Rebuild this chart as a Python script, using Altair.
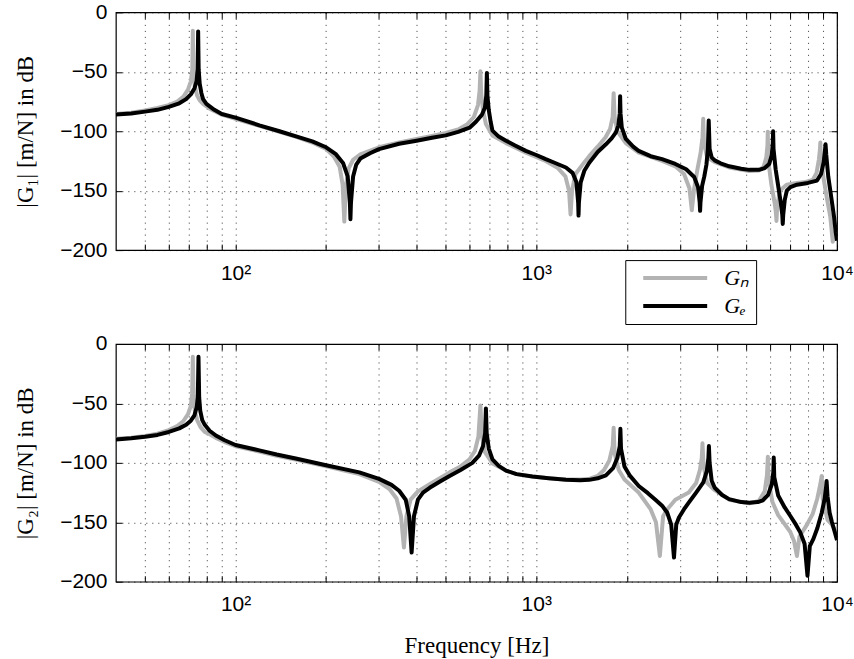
import altair as alt
import pandas as pd

# Series names and line colours
SERIES = ["Gₙ", "Gₑ"]
COLORS = ["#b3b3b3", "#000000"]

# Tick positions
X_TICKS = [50, 60, 70, 80, 90, 100, 200, 300, 400, 500, 600, 700, 800, 900,
           1000, 2000, 3000, 4000, 5000, 6000, 7000, 8000, 9000, 10000]
Y_TICKS = [-200, -150, -100, -50, 0]

# |G1|, nominal model
g1_n_freq = [40, 45, 50, 55, 60, 64, 67, 69.5, 71, 71.8, 72.1, 72.4, 73.2, 74.5, 76, 78, 82, 90,
             100, 120, 140, 160, 180, 200, 212, 222, 227, 230, 233, 238, 246, 260, 300, 350,
             400, 450, 500, 550, 590, 620, 640, 648, 652, 656, 665, 680, 715, 793, 923, 1075,
             1180, 1250, 1285, 1300, 1315, 1350, 1446, 1500, 1600, 1700, 1760, 1795, 1808, 1822,
             1860, 1985, 2190, 2620, 2900, 3100, 3230, 3290, 3350, 3440, 3520, 3570, 3590, 3610,
             3700, 3920, 4380, 5110, 5500, 5700, 5820, 5870, 5885, 5910, 6050, 6200, 6260, 6290,
             6320, 6450, 6800, 7360, 7750, 8300, 8550, 8700, 8770, 8800, 8830, 9000, 9250, 9500,
             9680, 9800, 10000]
g1_n_db = [-85.5, -84.5, -82.5, -80.5, -78, -75, -71, -65, -58, -48, -15.5, -48, -62, -70, -74, -77, -81, -86,
           -89.5, -95.5, -100.5, -105, -109.5, -115, -121, -130, -145, -176, -145, -131, -124, -119.5, -113.5, -109.5,
           -106.5, -104, -101.5, -98.5, -94, -88, -78, -66, -49.5, -68, -82, -94, -103.5, -110, -118, -125,
           -131, -138, -150, -170, -150, -136, -126, -121, -113, -105, -98, -88, -68, -88,
           -100, -110, -118, -125, -129.5, -136, -148, -166.5, -148, -131, -118, -105, -89.5, -110,
           -122, -126, -130.5, -133.5, -133, -130, -122, -112, -100.5, -125, -145, -160, -168, -175.5,
           -165, -150, -145, -143.5, -143, -141, -135, -124, -116, -109.5, -120, -138, -156, -172,
           -193, -188, -182]

# |G1|, estimated model
g1_e_freq = [40, 45, 50, 55, 60, 65, 68.5, 71, 73, 74.2, 74.8, 75.1, 75.4, 76, 77, 78, 80, 85, 90,
             100, 120, 140, 160, 180, 200, 215, 228, 236, 240, 241, 242, 246, 252, 260, 280, 300,
             350, 400, 450, 500, 550, 600, 630, 660, 675, 682, 685, 688, 695, 705, 715, 750, 793,
             850, 923, 1000, 1075, 1150, 1255, 1320, 1360, 1378, 1382, 1386, 1405, 1446, 1500,
             1600, 1704, 1780, 1840, 1875, 1895, 1900, 1906, 1925, 1985, 2100, 2190, 2400, 2620,
             2900, 3150, 3350, 3450, 3495, 3505, 3515, 3560, 3620, 3680, 3720, 3745, 3770, 3830,
             3920, 4100, 4380, 4800, 5110, 5500, 5750, 5950, 6070, 6115, 6130, 6150, 6250, 6373,
             6500, 6575, 6600, 6625, 6700, 6808, 7000, 7357, 8000, 8580, 8850, 9030, 9120, 9160,
             9210, 9350, 9500, 9650, 9775, 9900, 10000]
g1_e_db = [-86, -85, -83.5, -82, -79.5, -76.5, -73, -69, -64, -58, -48, -16, -48, -60, -68, -73, -77, -82, -85.5,
           -88.5, -95, -100, -104.5, -108.5, -113.5, -119, -127, -138, -160, -174, -160, -138, -128, -123, -118.5, -115,
           -110.5, -108, -105.5, -103.5, -100.5, -97, -92, -86, -80, -70, -51, -70, -82, -92, -99.5, -104.5, -108,
           -112, -116.5, -120, -123.5, -126.5, -130.5, -135, -143, -160, -171, -160, -143, -133, -126.5,
           -117.5, -111, -106, -101, -95, -85, -70.5, -85, -97, -106.5, -113, -116.5, -121, -123.5,
           -127.5, -132, -138.5, -147, -160, -167, -160, -146, -138, -128, -115, -91, -115, -122,
           -124.5, -127, -129.5, -131.5, -132.5, -132.5, -131, -127.5, -120, -110, -100, -115, -132, -146,
           -160, -170, -178, -170, -158, -150, -147, -145, -143.5, -141.5, -136, -126, -116, -111,
           -120, -138, -150, -162, -172, -185, -192]

# |G2|, nominal model
g2_n_freq = [40, 45, 50, 55, 60, 64, 67, 69.5, 71, 71.7, 72.1, 72.5, 73.2, 74.5, 76.5, 79, 82, 86, 92,
             100, 120, 137, 160, 200, 258, 300, 325, 343, 355, 363, 370, 382, 404, 442, 515, 560,
             600, 625, 642, 652, 660, 675, 715, 793, 860, 971, 1100, 1255, 1400, 1500, 1600, 1680,
             1750, 1795, 1808, 1822, 1880, 1964, 2191, 2400, 2500, 2576, 2640, 2727, 2900, 3213,
             3400, 3500, 3550, 3570, 3600, 3700, 3921, 4376, 5114, 5500, 5750, 5850, 5888, 5925,
             6100, 6373, 6630, 6988, 7200, 7357, 7500, 7900, 8300, 8600, 8800, 8894, 8960, 9300,
             9620, 10000]
g2_n_db = [-79.8, -78.8, -77.3, -75.5, -72.5, -69, -65, -59, -52, -42, -10.8, -42, -56, -64, -70, -74, -76, -79, -82.5,
           -86, -90.5, -94, -97.5, -103, -109.5, -116, -122, -130, -145, -171.3, -145, -131, -124, -118, -108, -103,
           -97, -90, -78, -51.7, -78, -91, -100.5, -106.5, -109.5, -111.5, -113, -114, -114, -113.5, -111, -106,
           -98, -86, -70.4, -92, -106, -114, -125, -139, -150, -178.3, -145, -139, -131, -125,
           -117, -106, -96, -83.6, -103, -117, -123, -131, -134, -132, -124, -110, -94.8, -115,
           -133, -144, -150, -158, -166, -178.3, -162, -153, -143, -130, -118, -111, -130, -148,
           -152, -160]

# |G2|, estimated model
g2_e_freq = [40, 45, 50, 55, 60, 65, 68.5, 71, 73, 74.3, 74.9, 75.3, 75.7, 76.3, 77.5, 79, 82, 86, 92,
             100, 120, 137, 160, 200, 258, 300, 330, 350, 368, 378, 385, 392, 404, 420, 442, 480,
             515, 560, 613, 645, 665, 676, 680, 684, 695, 715, 750, 793, 860, 971, 1100, 1255,
             1400, 1500, 1600, 1704, 1800, 1860, 1895, 1904, 1913, 1964, 2050, 2191, 2350, 2490,
             2620, 2727, 2810, 2870, 2920, 2981, 3100, 3213, 3400, 3592, 3690, 3735, 3750, 3770,
             3830, 3921, 4150, 4376, 4800, 5114, 5450, 5667, 5900, 6070, 6140, 6160, 6185, 6373,
             6700, 6988, 7300, 7546, 7800, 7976, 8120, 8345, 8600, 8894, 9100, 9200, 9233, 9300,
             9450, 9620, 9800, 10000]
g2_e_db = [-80.3, -79.3, -78, -76.5, -74, -71, -68, -64.5, -60, -53, -45, -10.8, -45, -56, -64, -68, -73, -77, -81,
           -85, -89.5, -93, -96.5, -102, -108, -113.5, -118.5, -123.5, -131, -145, -175.5, -145, -131, -125, -121, -115.5,
           -111, -106, -100, -94, -86, -75, -54.2, -75, -88, -97, -102.5, -106.5, -109.5, -111.5, -113, -114.3,
           -114.6, -114.3, -113, -110.5, -104.5, -96, -86, -71.3, -88, -103, -111, -119.5, -125.5, -131,
           -136, -142, -152, -179.7, -152, -146, -139, -133.5, -125, -116.5, -107, -96, -85.9, -100,
           -115, -121, -127, -130.5, -133, -133.5, -133, -131.5, -127, -118, -108, -95.6, -112, -127.5,
           -137.5, -144.5, -152, -158.5, -168, -195, -170, -164, -155, -142, -130, -120, -115.3, -128,
           -142, -150, -157, -165]

X_LABELS = ("datum.value == 100 ? '10²' : datum.value == 1000 ? '10³' : "
            "datum.value == 10000 ? '10⁴' : ''")

TICK = 6  # inward tick length


def series_frame(freq, db, name):
    return pd.DataFrame({"freq": freq, "db": db, "series": name})


def panel(freq_n, db_n, freq_e, db_e, y_title, x_title):
    x_scale = alt.Scale(type="log", domain=[40, 10000], nice=False)
    y_scale = alt.Scale(domain=[-200, 0], nice=False)
    color = alt.Color(
        "series:N", scale=alt.Scale(domain=SERIES, range=COLORS),
        legend=alt.Legend(orient="none", legendX=510, legendY=248, title=None,
                          symbolType="M-4,0H4", symbolSize=256, symbolStrokeWidth=4,
                          symbolOffset=32, labelFont="Liberation Serif",
                          labelFontStyle="italic", labelFontSize=22, labelOffset=38,
                          fillColor="white", strokeColor="black", padding=7,
                          rowPadding=6))

    # bottom/left axes carry labels, grid and inward ticks
    x_main = alt.Axis(values=X_TICKS, labelExpr=X_LABELS, labelPadding=12,
                      title=x_title if x_title else None, titlePadding=20,
                      labelFlush=False, labelOverlap=False, ticks=True,
                      tickSize=TICK, offset=-TICK, tickColor="black")
    y_main = alt.Axis(values=Y_TICKS, title=y_title, labelPadding=9, titlePadding=22,
                      format="d", ticks=True, tickSize=TICK, offset=-TICK,
                      tickColor="black")
    # top/right axes only mirror the inward ticks
    x_mirror = alt.Axis(orient="top", values=X_TICKS, labels=False, grid=False,
                        title=None, ticks=True, tickSize=TICK, offset=-TICK,
                        tickColor="black")
    y_mirror = alt.Axis(orient="right", values=Y_TICKS, labels=False, grid=False,
                        title=None, ticks=True, tickSize=TICK, offset=-TICK,
                        tickColor="black")

    nominal = alt.Chart(series_frame(freq_n, db_n, SERIES[0])).mark_line(
        strokeWidth=4, clip=True, strokeJoin="round").encode(
        x=alt.X("freq:Q", scale=x_scale, axis=x_main),
        y=alt.Y("db:Q", scale=y_scale, axis=y_main),
        color=color)
    estimated = alt.Chart(series_frame(freq_e, db_e, SERIES[1])).mark_line(
        strokeWidth=4, clip=True, strokeJoin="round").encode(
        x=alt.X("freq:Q", scale=x_scale, axis=x_mirror),
        y=alt.Y("db:Q", scale=y_scale, axis=y_mirror),
        color=color)
    return alt.layer(nominal, estimated).resolve_axis(
        x="independent", y="independent").properties(width=722, height=238)


top = panel(g1_n_freq, g1_n_db, g1_e_freq, g1_e_db, "|G₁| [m/N] in dB", None)
bottom = panel(g2_n_freq, g2_n_db, g2_e_freq, g2_e_db, "|G₂| [m/N] in dB", "Frequency [Hz]")

chart = alt.vconcat(top, bottom, spacing=48).properties(
    padding={"left": 14, "top": 0, "right": 0, "bottom": 5},
    background="white",
).configure_view(
    stroke="black", strokeWidth=1.2
).configure_axis(
    labelFont="Liberation Sans", labelFontSize=21, labelColor="black",
    titleFont="Liberation Serif", titleFontSize=23, titleFontWeight="normal",
    titleColor="black", domain=False, grid=True,
    gridColor="black", gridDash=[1, 5], gridOpacity=0.8, gridWidth=1,
)

chart.save("out.html", embed_options={"renderer": "svg", "actions": False})
